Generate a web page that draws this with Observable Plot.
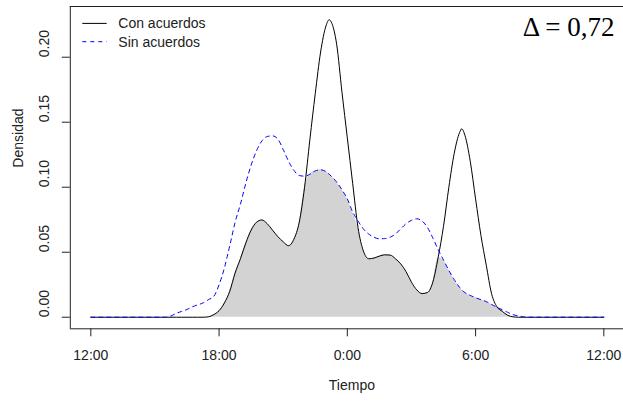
<!DOCTYPE html>
<html>
<head>
<meta charset="utf-8">
<script src="https://cdn.jsdelivr.net/npm/d3@7"></script>
<script src="https://cdn.jsdelivr.net/npm/@observablehq/plot@0.6"></script>
<style>
  html, body { margin: 0; padding: 0; background: white; }
</style>
</head>
<body>
<div id="chart"></div>
<script>
// Hours elapsed since 12:00 (noon) — 0 = 12:00, 12 = 0:00, 24 = 12:00 next day
const times = [0, 3.5, 3.75, 4, 4.25, 4.5, 4.75, 5, 5.25, 5.5, 5.75, 6, 6.25, 6.5, 6.75, 7, 7.25, 7.5, 7.75, 8, 8.25, 8.5, 8.75, 9, 9.25, 9.5, 9.75, 10, 10.25, 10.5, 10.75, 11, 11.15, 11.25, 11.5, 11.75, 12, 12.25, 12.5, 12.75, 13, 13.25, 13.5, 13.75, 14, 14.25, 14.5, 14.75, 15, 15.25, 15.5, 15.75, 16, 16.25, 16.5, 16.75, 17, 17.25, 17.35, 17.5, 17.75, 18, 18.25, 18.5, 18.75, 19, 19.25, 19.5, 19.75, 20, 20.25, 20.5, 24];

// Density "Con acuerdos"
const conAcuerdos = [0, 0, 0, 0, 0, 0, 0, 0, 0, 0.0003, 0.002, 0.005, 0.011, 0.020, 0.034, 0.045, 0.057, 0.067, 0.073, 0.0748, 0.072, 0.067, 0.062, 0.058, 0.055, 0.060, 0.073, 0.100, 0.137, 0.172, 0.204, 0.224, 0.2288, 0.227, 0.210, 0.173, 0.138, 0.103, 0.069, 0.051, 0.045, 0.0455, 0.047, 0.048, 0.0478, 0.045, 0.041, 0.035, 0.027, 0.021, 0.0182, 0.019, 0.027, 0.046, 0.070, 0.100, 0.126, 0.142, 0.1449, 0.140, 0.120, 0.091, 0.063, 0.040, 0.018, 0.008, 0.0045, 0.0015, 0.0003, 0, 0, 0, 0];

// Density "Sin acuerdos"
const sinAcuerdos = [0, 0, 0.001, 0.003, 0.0045, 0.006, 0.008, 0.0095, 0.011, 0.0135, 0.016, 0.025, 0.038, 0.055, 0.073, 0.087, 0.103, 0.117, 0.128, 0.1355, 0.139, 0.1395, 0.137, 0.129, 0.120, 0.113, 0.109, 0.1085, 0.110, 0.1125, 0.1134, 0.112, 0.110, 0.1085, 0.104, 0.098, 0.091, 0.081, 0.074, 0.068, 0.064, 0.0615, 0.0603, 0.0605, 0.0615, 0.064, 0.068, 0.072, 0.0745, 0.0757, 0.074, 0.069, 0.061, 0.052, 0.044, 0.036, 0.029, 0.023, 0.021, 0.019, 0.0168, 0.015, 0.0135, 0.012, 0.0098, 0.0077, 0.0057, 0.0038, 0.002, 0.001, 0.0003, 0, 0];

const xTicks = [0, 6, 12, 18, 24];
const xTickLabels = ["12:00", "18:00", "0:00", "6:00", "12:00"];
const yTicks = [0, 0.05, 0.10, 0.15, 0.20];
const seriesNames = ["Con acuerdos", "Sin acuerdos"];
const deltaText = "Δ = 0,72";
const xTitle = "Tiempo";
const yTitle = "Densidad";

const xDomain = [-0.96, 24.92];
const yDomain = [-0.0089, 0.239];

const table = times.map((t, i) => ({t, con: conAcuerdos[i], sin: sinAcuerdos[i], overlap: Math.min(conAcuerdos[i], sinAcuerdos[i])}));

const sans = "'Liberation Sans', Arial, sans-serif";
const ink = "#222";

const svg = Plot.plot({
  width: 623,
  height: 402,
  marginLeft: 69.8,
  marginRight: 0,
  marginTop: 6,
  marginBottom: 73.7,
  style: {fontFamily: sans, fontSize: "14px", color: ink, background: "white", overflow: "visible"},
  x: {domain: xDomain, ticks: xTicks, tickSize: 8, tickPadding: 13, tickFormat: d => xTickLabels[xTicks.indexOf(d)], label: null},
  y: {domain: yDomain, ticks: yTicks, tickSize: 8, tickFormat: () => "", label: null},
  marks: [
    Plot.areaY(table, {x: "t", y: "overlap", fill: "#d3d3d3", curve: "monotone-x"}),
    Plot.line(table, {x: "t", y: "con", stroke: "black", strokeWidth: 1, curve: "monotone-x"}),
    Plot.line(table, {x: "t", y: "sin", stroke: "blue", strokeWidth: 1, strokeDasharray: "4,4", curve: "monotone-x"}),
    Plot.ruleX([xDomain[0]], {stroke: ink}),
    Plot.ruleY([yDomain[0], yDomain[1]], {stroke: ink}),
    Plot.text(yTicks, {frameAnchor: "left", y: d => d, rotate: -90, dx: -25.3, text: d => d.toFixed(2), fontSize: 14, fill: ink}),
    Plot.text([yTitle], {frameAnchor: "left", rotate: -90, dx: -52, text: d => d, fontSize: 14, fill: ink}),
    Plot.text([xTitle], {frameAnchor: "bottom", dx: 5, dy: 61, text: d => d, fontSize: 14, fill: ink}),
    Plot.text([deltaText], {frameAnchor: "top-right", textAnchor: "end", lineAnchor: "top", dx: -9, dy: 10, text: d => d, fontSize: 27, fontFamily: "'Liberation Serif', 'Times New Roman', serif", fill: "black"})
  ]
});

// Legend (top-left, inside the plot box)
const leg = d3.select(svg).append("g")
  .attr("font-family", sans).attr("font-size", 14).attr("text-anchor", "start");
const legendRows = [
  {name: seriesNames[0], stroke: "black", dash: null, y: 23.4},
  {name: seriesNames[1], stroke: "blue", dash: "4,4", y: 41.7}
];
for (const r of legendRows) {
  leg.append("line").attr("x1", 82.3).attr("x2", 106.7).attr("y1", r.y).attr("y2", r.y)
    .attr("stroke", r.stroke).attr("stroke-width", 1).attr("stroke-dasharray", r.dash);
  leg.append("text").attr("x", 118.3).attr("y", r.y + 4.9).attr("fill", ink)
    .style("text-anchor", "start").text(r.name);
}

document.getElementById("chart").appendChild(svg);
</script>
</body>
</html>
